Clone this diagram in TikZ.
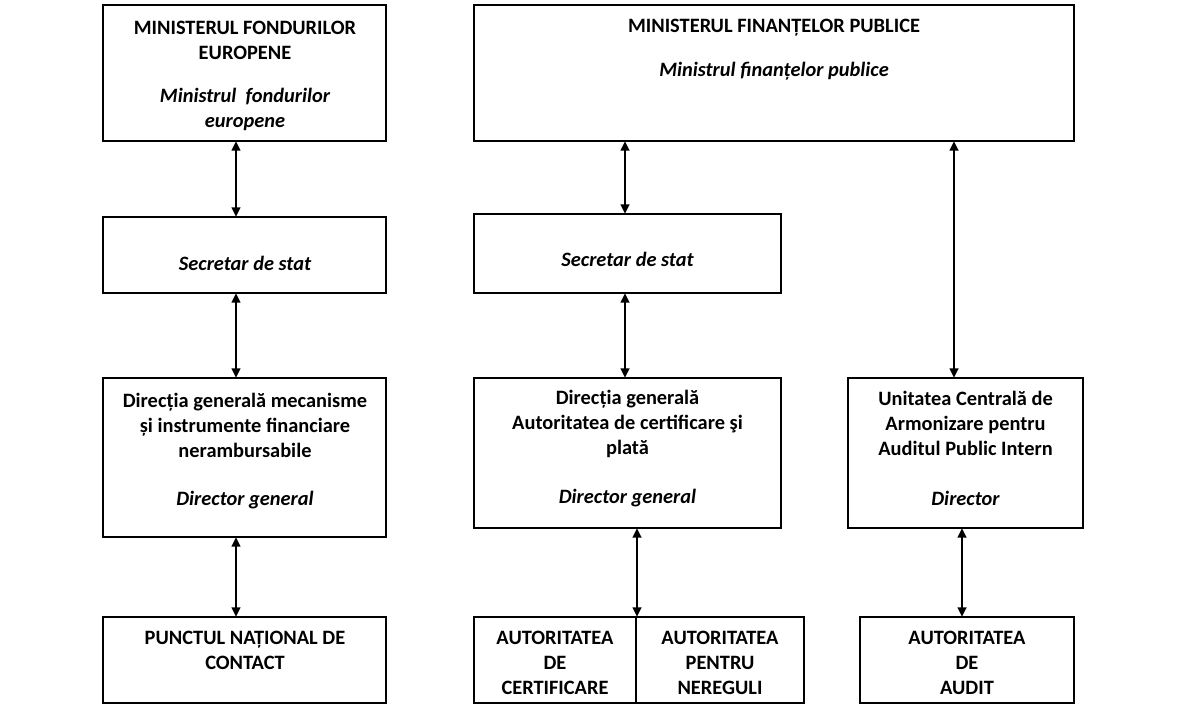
\documentclass[tikz,border=0pt]{standalone}
\usepackage{fontspec}
\setmainfont{Carlito}
\usetikzlibrary{arrows.meta}
\begin{document}
\begin{tikzpicture}[x=0.75pt,y=-0.75pt,
  orgbox/.style 2 args={draw, line width=1.5pt, inner sep=0pt, minimum width=#1*0.75pt, minimum height=#2*0.75pt},
  txt/.style={align=center, inner sep=0pt, font=\fontsize{15.3}{18.75}\selectfont\bfseries},
  itxt/.style={align=center, inner sep=0pt, font=\fontsize{15.3}{18.75}\selectfont\bfseries\itshape},
  conn/.style={line width=1.5pt, {Triangle[width=6.5pt,length=7pt]}-{Triangle[width=6.5pt,length=7pt]}, shorten <=-0.6pt, shorten >=-0.6pt}]
\useasboundingbox (0,0) rectangle (1182,709);
% boxes
\node[orgbox={283}{136}] (mfe) at (244.5,73) {};
\node[orgbox={600}{136}] (mfp) at (774,73) {};
\node[orgbox={283}{76}] (sec1) at (244.5,255) {};
\node[orgbox={307}{79}] (sec2) at (627.5,253.5) {};
\node[orgbox={283}{159}] (dg1) at (244.5,457.5) {};
\node[orgbox={307}{150}] (dg2) at (627.5,453) {};
\node[orgbox={235}{150}] (uca) at (965.5,453) {};
\node[orgbox={283}{86}] (pnc) at (244.5,660) {};
\node[orgbox={162}{86}] (ac) at (555,660) {};
\node[orgbox={168}{86}] (anr) at (720,660) {};
\node[orgbox={214}{86}] (aa) at (967,660) {};
% texts
\node[txt] (t1a) at (245,40.5) {MINISTERUL FONDURILOR\\EUROPENE};
\node[itxt] (t1b) at (245,109.5) {Ministrul \ fondurilor\\europene};
\node[txt] (t2a) at (774,28) {MINISTERUL FINANȚELOR PUBLICE};
\node[itxt] (t2b) at (774,71) {Ministrul finanțelor publice};
\node[itxt] (t3) at (245,263) {Secretar de stat};
\node[itxt] (t4) at (627.5,259) {Secretar de stat};
\node[txt] (t5a) at (245,425) {Direcția generală mecanisme\\și instrumente financiare\\nerambursabile};
\node[itxt] (t5b) at (245,500) {Director general};
\node[txt] (t6a) at (627.5,424) {Direcția generală\\Autoritatea de certificare şi\\plată};
\node[itxt] (t6b) at (627.5,498.5) {Director general};
\node[txt] (t7a) at (965.5,423.5) {Unitatea Centrală de\\Armonizare pentru\\Auditul Public Intern};
\node[itxt] (t7b) at (965.5,498) {Director};
\node[txt] (t8) at (245,650.5) {PUNCTUL NAȚIONAL DE\\CONTACT};
\node[txt] (t9) at (555,663) {AUTORITATEA\\DE\\CERTIFICARE};
\node[txt] (t10) at (720,663) {AUTORITATEA\\PENTRU\\NEREGULI};
\node[txt] (t11) at (967,663) {AUTORITATEA\\DE\\AUDIT};
% connector x positions
\coordinate (xa) at (236,0);
\coordinate (xb) at (625,0);
\coordinate (xd) at (954,0);
\coordinate (xe) at (962,0);
% connectors
\draw[conn] (mfe.south -| xa) -- (sec1.north -| xa);
\draw[conn] (sec1.south -| xa) -- (dg1.north -| xa);
\draw[conn] (dg1.south -| xa) -- (pnc.north -| xa);
\draw[conn] (mfp.south -| xb) -- (sec2.north -| xb);
\draw[conn] (sec2.south -| xb) -- (dg2.north -| xb);
\draw[conn] (dg2.south -| ac.north east) -- (ac.north east);
\draw[conn] (mfp.south -| xd) -- (uca.north -| xd);
\draw[conn] (uca.south -| xe) -- (aa.north -| xe);
\end{tikzpicture}
\end{document}
